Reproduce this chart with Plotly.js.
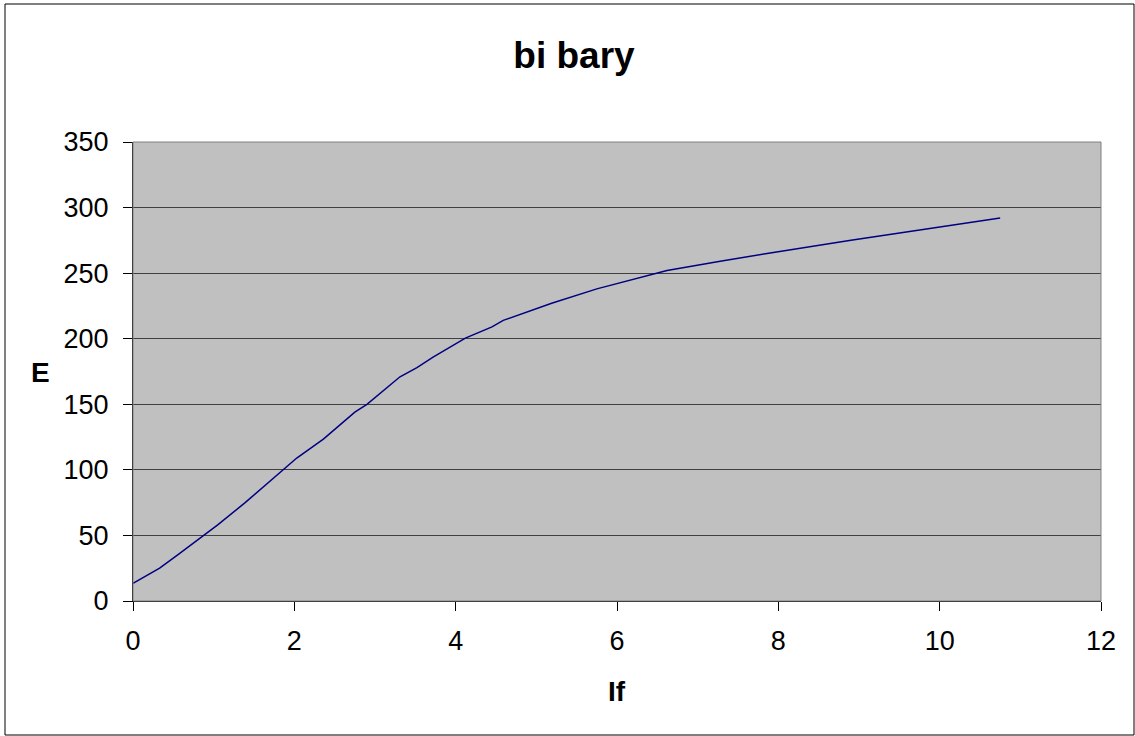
<!DOCTYPE html>
<html>
<head>
<meta charset="utf-8">
<script src="https://cdn.plot.ly/plotly-3.0.1.min.js"></script>
<style>
html,body{margin:0;padding:0;background:#fff;}
#chart{width:1135px;height:736px;}
</style>
</head>
<body>
<div id="chart"></div>
<script>
const xIf = [0, 0.33, 0.55, 1.05, 1.39, 1.86, 2.03, 2.36, 2.75, 2.9, 3.31, 3.52, 3.72, 4.12, 4.45, 4.59, 5.19, 5.75, 6.2, 6.62, 7.28, 7.86, 8.9, 10.75];
const yE  = [13.5, 25, 35, 58, 75, 100.5, 109, 123.5, 144, 150, 171, 178, 186, 200.5, 209, 214, 227, 238, 245, 252, 259, 265, 275, 292];
const xTicks = [0, 2, 4, 6, 8, 10, 12];
const yTicks = [0, 50, 100, 150, 200, 250, 300, 350];
const chartTitle = 'bi bary';
const xTitle = 'If';
const yTitle = 'E';

const font = 'Arial, "Liberation Sans", sans-serif';
const W = 1135, H = 736, L = 133, R = 34, T = 142, B = 135;
const pw = W - L - R, ph = H - T - B;

Plotly.newPlot('chart', [{
  x: xIf, y: yE, type: 'scatter', mode: 'lines',
  line: {color: '#000080', width: 1.5}, hoverinfo: 'x+y'
}], {
  width: W, height: H,
  margin: {l: L, r: R, t: T, b: B, pad: 0},
  paper_bgcolor: '#ffffff', plot_bgcolor: '#c0c0c0',
  showlegend: false,
  title: {text: '<b>' + chartTitle + '</b>', font: {family: font, size: 37, color: '#000'}, x: 574/W, xanchor: 'center', y: 1 - 55/H, yanchor: 'middle'},
  xaxis: {
    range: [0, 12], tickvals: xTicks, ticktext: xTicks.map(String),
    showgrid: false, zeroline: false, showline: true, linecolor: '#000', linewidth: 1,
    ticks: 'outside', ticklen: 9, tickcolor: '#000',
    ticklabelstandoff: 7,
    tickfont: {family: font, size: 27, color: '#000'}
  },
  yaxis: {
    range: [0, 350], tickvals: yTicks, ticktext: yTicks.map(String),
    showgrid: true, gridcolor: '#404040', gridwidth: 1, zeroline: false,
    showline: true, linecolor: '#000', linewidth: 1,
    ticks: 'outside', ticklen: 9, tickcolor: '#000',
    ticklabelstandoff: 9,
    tickfont: {family: font, size: 27, color: '#000'}
  },
  annotations: [
    {text: '<b>' + xTitle + '</b>', xref: 'paper', yref: 'paper', x: (617 - L)/pw, y: -(691 - T - ph)/ph, xanchor: 'center', yanchor: 'middle', showarrow: false, font: {family: font, size: 28, color: '#000'}},
    {text: '<b>' + yTitle + '</b>', xref: 'paper', yref: 'paper', x: (40 - L)/pw, y: 1 - (372 - T)/ph, xanchor: 'center', yanchor: 'middle', showarrow: false, font: {family: font, size: 28, color: '#000'}}
  ],
  shapes: [
    {type: 'rect', xref: 'paper', yref: 'paper', x0: 0, x1: 1, y0: 0, y1: 1, line: {color: '#808080', width: 1}},
    {type: 'rect', xref: 'paper', yref: 'paper', x0: (5 - L)/pw, x1: (1134 - L)/pw, y0: -(735 - T - ph)/ph, y1: 1 + (T - 4)/ph, line: {color: '#000', width: 1}}
  ]
}, {displayModeBar: false});
</script>
</body>
</html>
